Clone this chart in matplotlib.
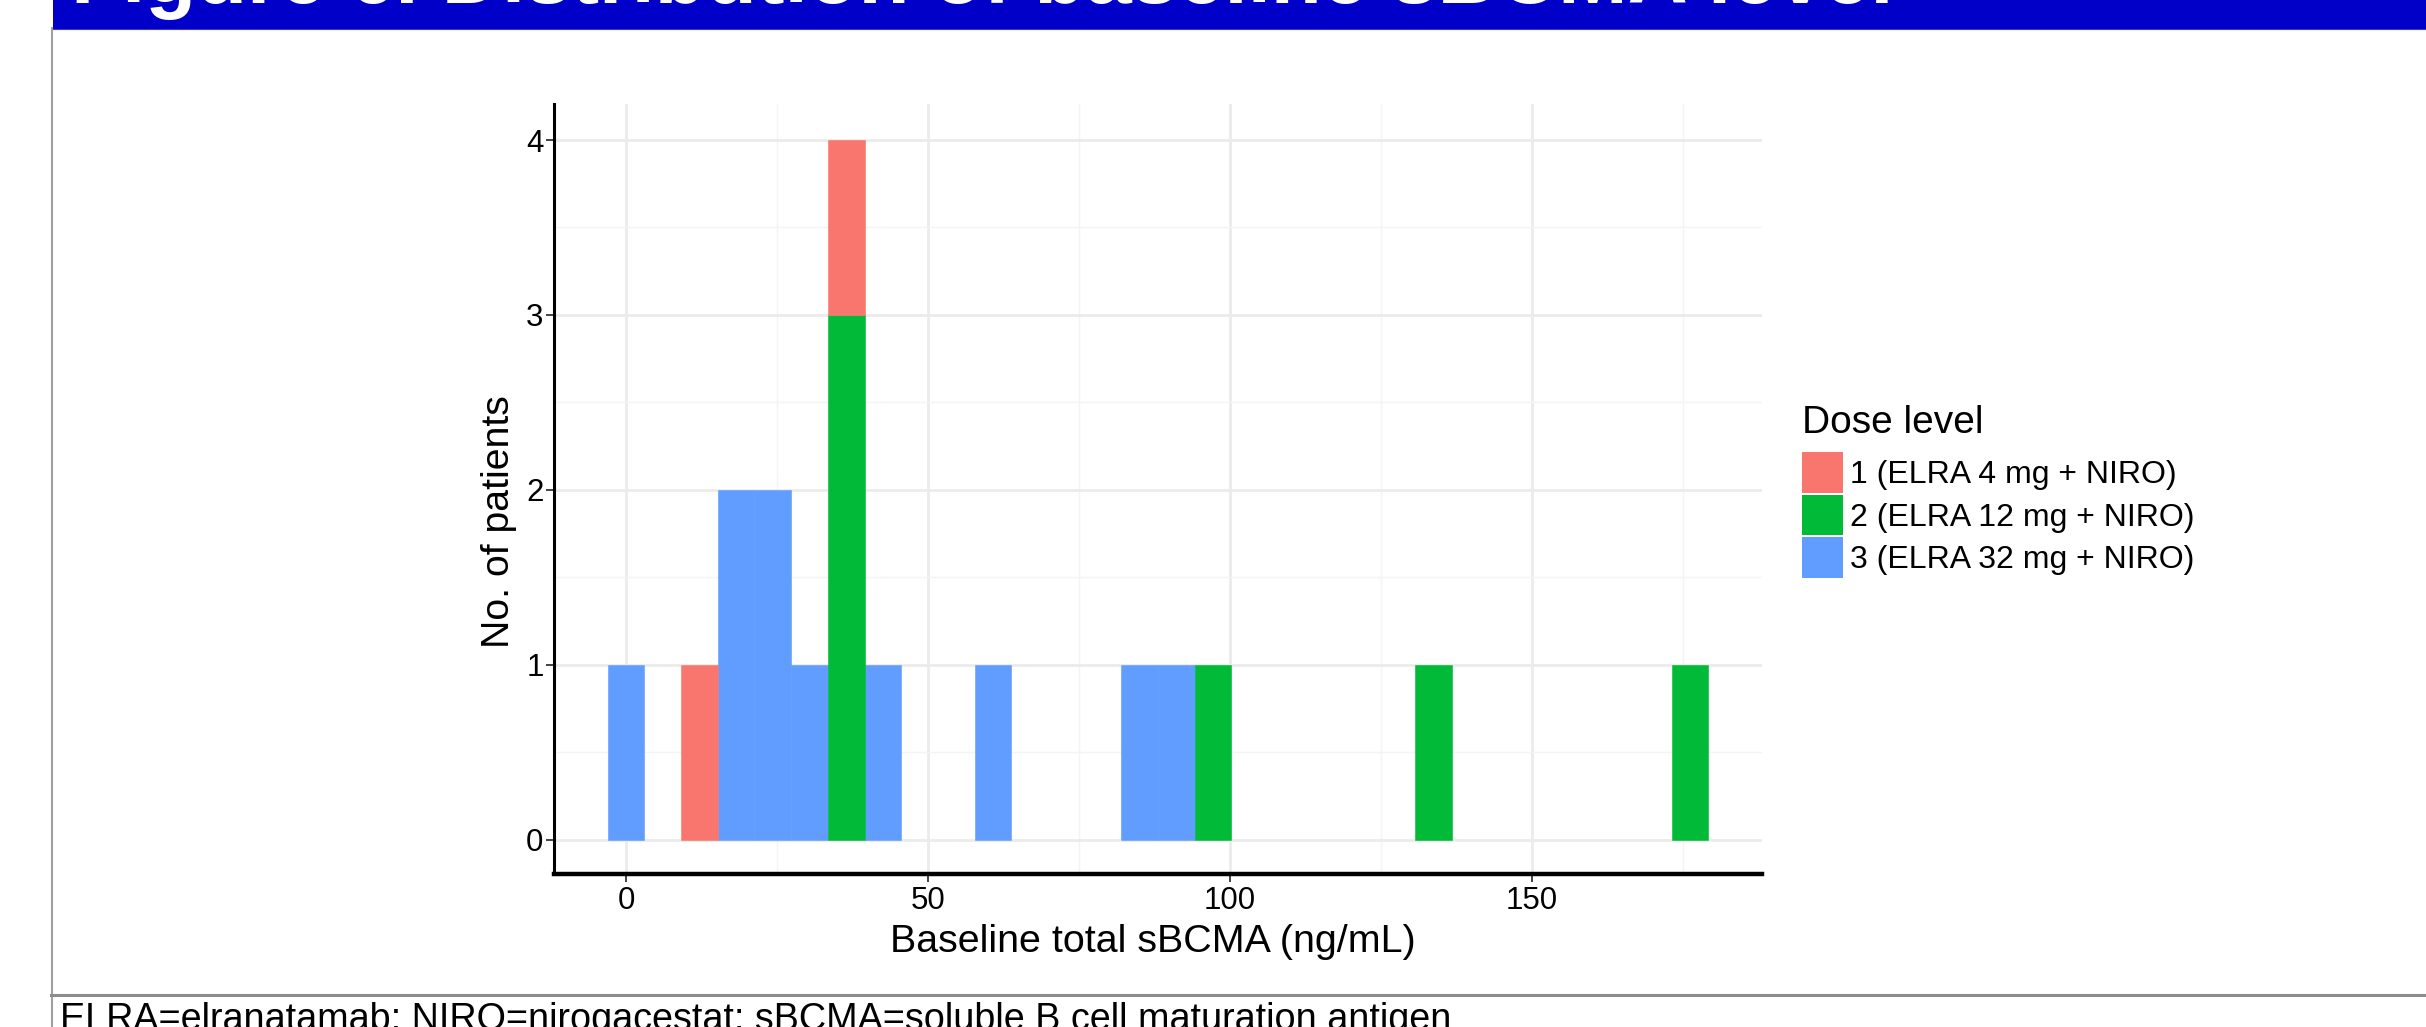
import numpy as np
import matplotlib
matplotlib.use("Agg")
import matplotlib.pyplot as plt
from matplotlib.patches import Patch, Rectangle
from matplotlib.lines import Line2D
from matplotlib.ticker import MultipleLocator

plt.rcParams['font.family'] = ['Liberation Sans', 'DejaVu Sans']

# baseline total sBCMA (ng/mL) per patient, by dose level
dose_labels = ["1 (ELRA 4 mg + NIRO)", "2 (ELRA 12 mg + NIRO)", "3 (ELRA 32 mg + NIRO)"]
dose_colors = ["#F8766D", "#00BA38", "#619CFF"]
dose1_sbcma = [12.0, 36.0]
dose2_sbcma = [35.5, 36.5, 37.0, 97.0, 133.5, 176.2]
dose3_sbcma = [0.0, 18.0, 19.5, 24.0, 25.5, 30.5, 42.5, 60.5, 85.0, 91.0]

x_ticks = [0, 50, 100, 150]
y_ticks = [0, 1, 2, 3, 4]

title_text = "Figure 6. Distribution of baseline sBCMA level"
footnote_text = "ELRA=elranatamab; NIRO=nirogacestat; sBCMA=soluble B cell maturation antigen"

# ggplot2 default binning: 30 bins, first/last bin centred on min/max
all_vals = dose1_sbcma + dose2_sbcma + dose3_sbcma
n_bins = 30
lo, hi = min(all_vals), max(all_vals)
bw = (hi - lo) / (n_bins - 1)
edges = lo - bw / 2 + bw * np.arange(n_bins + 1)

W, H = 2426, 1027
fig = plt.figure(figsize=(W / 100, H / 100), dpi=100)
ax = fig.add_axes([554 / W, 1 - 874 / H, (1762 - 554) / W, (874 - 104) / H])

# stacked histogram: dose 3 at the bottom, dose 1 on top (ggplot order)
stack_colors = [dose_colors[2], dose_colors[1], dose_colors[0]]
_, _, containers = ax.hist([dose3_sbcma, dose2_sbcma, dose1_sbcma], bins=edges,
                           stacked=True, rwidth=1.0, color=stack_colors)
for cont, c in zip(containers, stack_colors):
    for p in cont:
        # close the hairline gaps between neighbouring bars, skip empty bins
        if p.get_height() > 0:
            p.set_edgecolor(c)
            p.set_linewidth(0.4)
        else:
            p.set_linewidth(0)

ax.set_xlim(-11.92, 188.1)
ax.set_ylim(-0.197, 4.206)
ax.set_xticks(x_ticks)
ax.set_yticks(y_ticks)
ax.xaxis.set_minor_locator(MultipleLocator(25))
ax.yaxis.set_minor_locator(MultipleLocator(0.5))
ax.grid(which='major', color='#EBEBEB', linewidth=2.0)
ax.grid(which='minor', color='#F4F4F4', linewidth=1.0)
ax.set_axisbelow(True)

ax.tick_params(which='minor', length=0)
ax.tick_params(which='major', length=5.5, width=1.3, color='#333333',
               labelsize=22.5, labelcolor='black')
ax.tick_params(axis='x', pad=3)
ax.tick_params(axis='y', pad=2)

for s in ['top', 'right']:
    ax.spines[s].set_visible(False)
ax.spines['left'].set_linewidth(2.2)
ax.spines['bottom'].set_linewidth(3.2)

ax.set_xlabel("Baseline total sBCMA (ng/mL)", fontsize=28.4, va='baseline')
ax.xaxis.set_label_coords(0.4959, -0.1009)
ax.set_ylabel("No. of patients", fontsize=28.3, va='baseline', ha='center')
ax.yaxis.set_label_coords(-0.0375, 0.457)

# legend
handles = [Patch(facecolor=c, edgecolor='none') for c in dose_colors]
ax.legend(handles, dose_labels, loc='upper left',
          bbox_to_anchor=(1802 / W, 1 - 452.3 / H), bbox_transform=fig.transFigure,
          frameon=False, fontsize=23, handlelength=1.268, handleheight=1.574,
          labelspacing=0.063, handletextpad=0.24, borderpad=0, borderaxespad=0)
fig.text(1802 / W, 1 - 433.3 / H, "Dose level", fontsize=28, va='baseline', ha='left')

# slide frame: blue title banner, grey borders, footnote
fig.patches.append(Rectangle((53 / W, 1 - 28.5 / H), 1 - 53 / W, 28.5 / H,
                             transform=fig.transFigure, facecolor='#0000C8',
                             edgecolor='none', zorder=0))
fig.add_artist(Line2D([53 / W, 1], [1 - 29 / H] * 2, color='#3838D8', linewidth=0.8))
fig.add_artist(Line2D([51.5 / W] * 2, [0, 1 - 28 / H], color='#A0A0A0', linewidth=1.5))
fig.add_artist(Line2D([51 / W, 1], [1 - 995 / H] * 2, color='#8C8C8C', linewidth=2.2))
fig.text(71 / W, 1 - 3 / H, title_text, color='white', fontsize=60,
         fontweight='bold', va='baseline', ha='left')
fig.text(60.5 / W, 1 - 1029.5 / H, footnote_text, fontsize=27.2, va='baseline', ha='left')

fig.savefig("out.png", dpi=100)
